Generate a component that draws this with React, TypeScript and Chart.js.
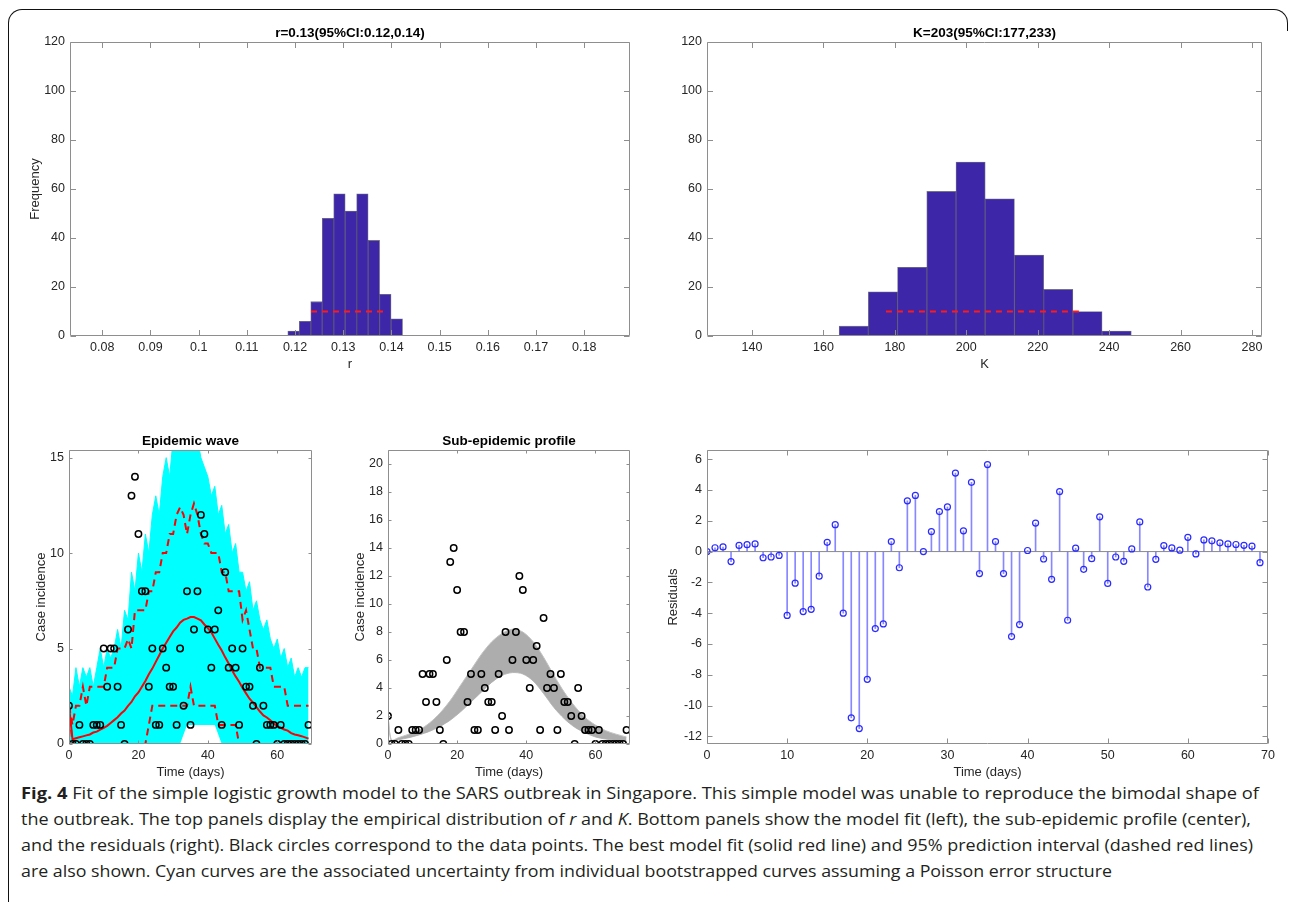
import React, { useEffect, useLayoutEffect, useRef } from "react";
import { Chart, registerables } from "chart.js";

Chart.register(...registerables);

// ---------------- Data ----------------
const rBinCenters = [0.11969, 0.12207, 0.12445, 0.12683, 0.12921, 0.13159, 0.13397, 0.13635, 0.13873, 0.14111];
const rCounts = [2, 6, 14, 48, 58, 51, 58, 39, 17, 7];
const rCI = [0.1233, 0.1392];
const rTicks = [0.08, 0.09, 0.1, 0.11, 0.12, 0.13, 0.14, 0.15, 0.16, 0.17, 0.18];

const kBinCenters = [168.49, 176.67, 184.85, 193.03, 201.21, 209.39, 217.57, 225.75, 233.93, 242.11];
const kCounts = [4, 18, 28, 59, 71, 56, 33, 19, 10, 2];
const kCI = [177.5, 232];
const kTicks = [140, 160, 180, 200, 220, 240, 260, 280];

const freqTicks = [0, 20, 40, 60, 80, 100, 120];

const days = [
  0, 1, 2, 3, 4, 5, 6, 7, 8, 9,
  10, 11, 12, 13, 14, 15, 16, 17, 18, 19,
  20, 21, 22, 23, 24, 25, 26, 27, 28, 29,
  30, 31, 32, 33, 34, 35, 36, 37, 38, 39,
  40, 41, 42, 43, 44, 45, 46, 47, 48, 49,
  50, 51, 52, 53, 54, 55, 56, 57, 58, 59,
  60, 61, 62, 63, 64, 65, 66, 67, 68, 69,
];
const cases = [
  2, 0, 0, 1, 0, 0, 0, 1, 1, 1,
  5, 3, 5, 5, 3, 1, 0, 6, 13, 14,
  11, 8, 8, 3, 5, 1, 1, 5, 4, 3,
  3, 1, 5, 2, 8, 1, 6, 8, 12, 11,
  6, 4, 6, 7, 1, 9, 4, 5, 4, 1,
  5, 3, 3, 2, 0, 4, 2, 1, 1, 1,
  0, 1, 0, 0, 0, 0, 0, 0, 0, 1,
];
const bestFit = [
  2, 0.25, 0.3, 0.35, 0.4, 0.45, 0.5, 0.6, 0.65, 0.75,
  0.85, 0.95, 1.1, 1.25, 1.4, 1.6, 1.75, 2.0, 2.2, 2.5,
  2.7, 3.0, 3.3, 3.65, 3.95, 4.3, 4.65, 5.0, 5.3, 5.6,
  5.9, 6.1, 6.35, 6.5, 6.57, 6.65, 6.65, 6.57, 6.48, 6.26,
  6.07, 5.85, 5.52, 5.2, 4.9, 4.54, 4.22, 3.85, 3.54, 3.26,
  2.93, 2.65, 2.37, 2.17, 1.93, 1.7, 1.5, 1.39, 1.24, 1.09,
  0.93, 0.85, 0.76, 0.7, 0.57, 0.5, 0.46, 0.41, 0.35, 0.28,
];
const piUpper = [
  2, 1, 2, 2, 3, 2, 3, 3, 3, 3,
  3, 4, 4, 4, 5, 5, 5, 5.5, 5, 7,
  7, 7, 7, 8, 8, 9, 9, 10, 10, 11,
  11, 12, 12.4, 12, 11, 12, 12.6, 12, 11, 10.5,
  10.5, 10, 10, 10, 9, 9, 8, 8, 8, 8,
  6.5, 7, 6, 5, 5, 4, 4, 4, 4, 3,
  3, 3, 3, 2, 2, 2, 2, 2, 2, 2,
];
const piLower = [
  2, 0, 0, 0, 0, 0, 0, 0, 0, 0,
  0, 0, 0, 0, 0, 0, 0, 0, 0, 0,
  0, 0, 0, 1, 2, 2, 2, 2, 2, 2,
  2, 2, 2, 2, 2, 3, 2, 2, 2, 2,
  2, 2, 2, 1, 1, 1, 1, 1, 1, 0,
  0, 0, 0, 0, 0, 0, 0, 0, 0, 0,
  0, 0, 0, 0, 0, 0, 0, 0, 0, 0,
];
// ragged top envelope of the cyan bootstrap realisations
const cyanHigh = [
  3, 2.5, 4, 3, 4, 3.5, 4, 3, 4, 5,
  4, 5, 4.5, 5, 6, 5, 7, 6.5, 9, 8,
  10, 9, 11, 10, 12, 13, 12, 14, 15, 14,
  16, 16, 16, 16, 16, 16, 16, 16, 15, 14.5,
  14, 13, 13.5, 12, 12.5, 11, 11.5, 10, 10.5, 9,
  9, 8, 8.5, 7, 7.5, 6.5, 6, 6.5, 5.5, 5,
  5.5, 4.5, 5, 4, 4.5, 3.5, 4, 3.5, 4, 4,
];
const cyanLow = [
  0, 0, 0, 0, 0, 0, 0, 0, 0, 0,
  0, 0, 0, 0, 0, 0, 0, 0, 0, 0,
  0, 0, 0, 0, 0, 0, 0, 0, 0, 0,
  0, 0, 0, 0.5, 1, 1, 1, 1, 1, 1,
  1, 1, 1, 0.5, 0, 0, 0, 0, 0, 0,
  0, 0, 0, 0, 0, 0, 0, 0, 0, 0,
  0, 0, 0, 0, 0, 0, 0, 0, 0, 0,
];
// envelope of the grey sub-epidemic curves
const bandDays = [0, 1, 3, 6, 9, 12, 15, 18, 21, 24, 27, 30, 33, 36, 39, 42, 45, 48, 51, 54, 57, 60, 63, 66, 69];
const grayUpper = [2, 0.3, 0.45, 0.7, 1.0, 1.5, 2.2, 3.1, 4.2, 5.3, 6.4, 7.3, 7.9, 8.2, 8.0, 7.3, 6.2, 4.9, 3.7, 2.7, 1.9, 1.35, 0.95, 0.7, 0.5];
const grayLower = [2, 0.2, 0.3, 0.45, 0.65, 0.9, 1.25, 1.7, 2.3, 3.0, 3.7, 4.4, 4.9, 5.1, 5.0, 4.5, 3.6, 2.6, 1.8, 1.2, 0.8, 0.5, 0.35, 0.25, 0.15];

const residuals = [
  0, 0.25, 0.3, -0.65, 0.4, 0.45, 0.5, -0.4, -0.35, -0.25,
  -4.15, -2.05, -3.9, -3.75, -1.6, 0.6, 1.75, -4.0, -10.8, -11.5,
  -8.3, -5.0, -4.7, 0.65, -1.05, 3.3, 3.65, 0, 1.3, 2.6,
  2.9, 5.1, 1.35, 4.5, -1.43, 5.65, 0.65, -1.43, -5.52, -4.74,
  0.07, 1.85, -0.48, -1.8, 3.9, -4.46, 0.22, -1.15, -0.46, 2.26,
  -2.07, -0.35, -0.63, 0.17, 1.93, -2.3, -0.5, 0.39, 0.24, 0.09,
  0.93, -0.15, 0.76, 0.7, 0.57, 0.5, 0.46, 0.41, 0.35, -0.72,
];

const timeTicks = [0, 20, 40, 60];
const waveYTicks = [0, 5, 10, 15];
const profileYTicks = [0, 2, 4, 6, 8, 10, 12, 14, 16, 18, 20];
const residXTicks = [0, 10, 20, 30, 40, 50, 60, 70];
const residYTicks = [-12, -10, -8, -6, -4, -2, 0, 2, 4, 6];

// ---------------- Styling helpers ----------------
const FAMILY = '"Liberation Sans", Arial, Helvetica, sans-serif';
const M = { l: 58, t: 36, r: 14, b: 46 };

type Box = { l: number; t: number; r: number; b: number };

const matlabAxes = {
  id: "matlabAxes",
  afterDraw(chart: any, _args: any, opts: any) {
    const { ctx, chartArea: a, scales } = chart;
    const L = Math.round(a.left) + 0.5;
    const R = Math.round(a.right) - 0.5;
    const T = Math.round(a.top) + 0.5;
    const B = Math.round(a.bottom) - 0.5;
    const len = opts.tickLen || 4;
    ctx.save();
    ctx.strokeStyle = "#8e8e8e";
    ctx.lineWidth = 1;
    ctx.beginPath();
    ctx.rect(L, T, R - L, B - T);
    for (const t of scales.x.ticks) {
      const p = Math.round(scales.x.getPixelForValue(t.value)) + 0.5;
      ctx.moveTo(p, B); ctx.lineTo(p, B - len);
      ctx.moveTo(p, T); ctx.lineTo(p, T + len);
    }
    for (const t of scales.y.ticks) {
      const p = Math.round(scales.y.getPixelForValue(t.value)) + 0.5;
      ctx.moveTo(L, p); ctx.lineTo(L + len, p);
      ctx.moveTo(R, p); ctx.lineTo(R - len, p);
    }
    ctx.stroke();
    const cx = (a.left + a.right) / 2;
    const cy = (a.top + a.bottom) / 2;
    ctx.textAlign = "center";
    ctx.textBaseline = "middle";
    if (opts.title) {
      ctx.fillStyle = "#000";
      ctx.font = `bold 13.5px ${FAMILY}`;
      ctx.fillText(opts.title, cx, a.top - 9);
    }
    ctx.fillStyle = "#262626";
    ctx.font = `13px ${FAMILY}`;
    if (opts.xLabel) ctx.fillText(opts.xLabel, cx, a.bottom + 28);
    if (opts.yLabel) {
      ctx.translate(a.left - opts.yLabelOffset, cy);
      ctx.rotate(-Math.PI / 2);
      ctx.fillText(opts.yLabel, 0, 0);
    }
    ctx.restore();
  },
};

function axis(min: number, max: number, ticks: number[], pos: "bottom" | "left", size: number, fmt?: (v: number) => string) {
  return {
    type: "linear",
    position: pos,
    min,
    max,
    offset: false,
    grid: { display: false, drawTicks: false },
    border: { display: false },
    ticks: {
      padding: pos === "bottom" ? 4 : 5,
      color: "#262626",
      font: { size: 12.5, family: FAMILY },
      autoSkip: false,
      maxRotation: 0,
      minRotation: 0,
      callback: (v: number) => (fmt ? fmt(v) : String(v)),
    },
    afterBuildTicks: (s: any) => {
      s.ticks = ticks.map((v) => ({ value: v }));
    },
    afterFit: (s: any) => {
      if (pos === "bottom") s.height = size;
      else s.width = size;
    },
  };
}

function baseOptions(scales: any, deco: any) {
  return {
    responsive: false,
    maintainAspectRatio: false,
    animation: false,
    devicePixelRatio: 1,
    events: [],
    layout: { padding: { top: M.t, right: M.r, left: 0, bottom: 0 } },
    plugins: {
      legend: { display: false },
      tooltip: { enabled: false },
      title: { display: false },
      matlabAxes: deco,
    },
    scales,
  };
}

function pts(xs: number[], ys: number[]) {
  return xs.map((x, i) => ({ x, y: ys[i] }));
}

const circleStyle = {
  showLine: false,
  pointStyle: "circle",
  pointRadius: 3.2,
  pointBorderWidth: 1.5,
  pointBorderColor: "#000",
  pointBackgroundColor: "rgba(0,0,0,0)",
  borderColor: "#000",
  backgroundColor: "rgba(0,0,0,0)",
};

function histConfig(centers: number[], counts: number[], ci: number[], xmin: number, xmax: number, xt: number[], fmt: (v: number) => string, deco: any) {
  return {
    type: "bar",
    data: {
      datasets: [
        {
          type: "line",
          data: [{ x: ci[0], y: 10 }, { x: ci[1], y: 10 }],
          borderColor: "#ff1a1a",
          borderWidth: 2,
          borderDash: [6, 5],
          pointRadius: 0,
          order: 0,
        },
        {
          type: "bar",
          data: pts(centers, counts),
          backgroundColor: "#3d26a8",
          borderColor: "rgba(25,20,50,0.6)",
          borderWidth: 0.8,
          borderSkipped: false,
          barPercentage: 1,
          categoryPercentage: 1,
          order: 1,
        },
      ],
    },
    options: baseOptions(
      {
        x: axis(xmin, xmax, xt, "bottom", M.b, fmt),
        y: axis(0, 120, freqTicks, "left", M.l),
      },
      deco
    ),
    plugins: [matlabAxes],
  };
}

function waveConfig() {
  return {
    type: "line",
    data: {
      datasets: [
        { data: pts(days, cyanLow), borderWidth: 0, borderColor: "rgba(0,0,0,0)", pointRadius: 0, order: 6, clip: 0 },
        {
          data: pts(days, cyanHigh),
          fill: "-1",
          backgroundColor: "#00ffff",
          borderColor: "#00ffff",
          borderWidth: 1,
          pointRadius: 0,
          order: 5,
          clip: 0,
        },
        { data: pts(days, piUpper), borderColor: "#ff0000", borderWidth: 2, borderDash: [7, 5], pointRadius: 0, order: 3 },
        { data: pts(days, piLower), borderColor: "#ff0000", borderWidth: 2, borderDash: [7, 5], pointRadius: 0, order: 3 },
        { data: pts(days, bestFit), borderColor: "#ff0000", borderWidth: 2, pointRadius: 0, order: 2 },
        { data: pts(days, cases), ...circleStyle, order: 1 },
      ],
    },
    options: baseOptions(
      {
        x: axis(0, 70, timeTicks, "bottom", M.b),
        y: axis(0, 15.4, waveYTicks, "left", M.l),
      },
      { title: "Epidemic wave", xLabel: "Time (days)", yLabel: "Case incidence", yLabelOffset: 27.5, tickLen: 3 }
    ),
    plugins: [matlabAxes],
  };
}

function profileConfig() {
  return {
    type: "line",
    data: {
      datasets: [
        { data: pts(bandDays, grayLower), borderColor: "#bdbdbd", borderWidth: 1, pointRadius: 0, order: 6, tension: 0.3 },
        {
          data: pts(bandDays, grayUpper),
          fill: "-1",
          backgroundColor: "#adadad",
          borderColor: "#c2c2c2",
          borderWidth: 1,
          pointRadius: 0,
          order: 5,
          tension: 0.3,
        },
        { data: pts(days, cases), ...circleStyle, order: 1 },
      ],
    },
    options: baseOptions(
      {
        x: axis(0, 70, timeTicks, "bottom", M.b),
        y: axis(0, 21, profileYTicks, "left", M.l),
      },
      { title: "Sub-epidemic profile", xLabel: "Time (days)", yLabel: "Case incidence", yLabelOffset: 27.5, tickLen: 3 }
    ),
    plugins: [matlabAxes],
  };
}

function residConfig() {
  return {
    type: "scatter",
    data: {
      datasets: [
        {
          type: "scatter",
          data: pts(days, residuals),
          showLine: false,
          pointStyle: "circle",
          pointRadius: 3,
          pointBorderWidth: 1.2,
          pointBorderColor: "#2a2aff",
          pointBackgroundColor: "rgba(0,0,0,0)",
          borderColor: "#2a2aff",
          backgroundColor: "rgba(0,0,0,0)",
          order: 0,
        },
        {
          type: "line",
          data: [{ x: 0, y: 0 }, { x: 70, y: 0 }],
          borderColor: "#8a8a8a",
          borderWidth: 1,
          pointRadius: 0,
          order: 1,
        },
        {
          type: "bar",
          data: pts(days, residuals),
          backgroundColor: "rgba(70,70,255,0.65)",
          borderWidth: 0,
          barThickness: 1,
          order: 2,
        },
      ],
    },
    options: baseOptions(
      {
        x: axis(0, 70, residXTicks, "bottom", M.b),
        y: axis(-12.5, 6.6, residYTicks, "left", M.l),
      },
      { xLabel: "Time (days)", yLabel: "Residuals", yLabelOffset: 34, tickLen: 5 }
    ),
    plugins: [matlabAxes],
  };
}

function Panel({ box, build }: { box: Box; build: () => any }) {
  const ref = useRef<HTMLCanvasElement>(null);
  const w = box.r - box.l + M.l + M.r;
  const h = box.b - box.t + M.t + M.b;
  useEffect(() => {
    const chart = new Chart(ref.current as HTMLCanvasElement, build() as any);
    return () => chart.destroy();
  }, []);
  return (
    <canvas
      ref={ref}
      width={w}
      height={h}
      style={{ position: "absolute", left: box.l - M.l, top: box.t - M.t, width: w, height: h }}
    />
  );
}

const fmtR = (v: number) => String(Number(v.toFixed(2)));

const P1: Box = { l: 70, t: 42, r: 630, b: 336 };
const P2: Box = { l: 707, t: 42, r: 1262, b: 336 };
const P3: Box = { l: 69, t: 450, r: 312, b: 744 };
const P4: Box = { l: 388, t: 450, r: 630, b: 744 };
const P5: Box = { l: 707, t: 450, r: 1268, b: 744 };

// caption layout: each line fitted to its measured width in the reference
const captionTargets = [
  { top: 795, width: 1238 },
  { top: 821, width: 1230 },
  { top: 847, width: 1232 },
  { top: 873, width: 1091 },
];

function Caption() {
  const refs = useRef<(HTMLSpanElement | null)[]>([]);
  useLayoutEffect(() => {
    const fit = () => {
      refs.current.forEach((el, i) => {
        if (!el) return;
        el.style.transform = "none";
        const w = el.getBoundingClientRect().width;
        if (w > 0) el.style.transform = `scaleX(${captionTargets[i].width / w})`;
      });
    };
    fit();
    const f: any = (document as any).fonts;
    if (f && f.ready) f.ready.then(fit);
  }, []);
  const lineStyle = (i: number): React.CSSProperties => ({
    position: "absolute",
    left: 21,
    top: captionTargets[i].top - 10,
    whiteSpace: "nowrap",
    transformOrigin: "0 0",
    display: "inline-block",
    fontFamily: '"Open Sans", "Noto Sans", sans-serif',
    fontSize: 16,
    lineHeight: "16px",
    color: "#231f20",
  });
  return (
    <>
      <span ref={(e) => { refs.current[0] = e; }} style={lineStyle(0)}>
        <b>Fig. 4</b> Fit of the simple logistic growth model to the SARS outbreak in Singapore. This simple model was unable to reproduce the bimodal shape of
      </span>
      <span ref={(e) => { refs.current[1] = e; }} style={lineStyle(1)}>
        the outbreak. The top panels display the empirical distribution of <i>r</i> and <i>K</i>. Bottom panels show the model fit (left), the sub-epidemic profile (center),
      </span>
      <span ref={(e) => { refs.current[2] = e; }} style={lineStyle(2)}>
        and the residuals (right). Black circles correspond to the data points. The best model fit (solid red line) and 95% prediction interval (dashed red lines)
      </span>
      <span ref={(e) => { refs.current[3] = e; }} style={lineStyle(3)}>
        are also shown. Cyan curves are the associated uncertainty from individual bootstrapped curves assuming a Poisson error structure
      </span>
    </>
  );
}

export default function App() {
  return (
    <div
      style={{
        position: "fixed",
        left: 0,
        top: 0,
        width: 1292,
        height: 902,
        overflow: "hidden",
        background: "#fff",
      }}
    >
      <div
        style={{
          position: "absolute",
          left: 8,
          top: 9,
          width: 1266,
          height: 1000,
          borderTop: "1.5px solid #111",
          borderLeft: "1.5px solid #111",
          borderTopLeftRadius: 14,
          boxSizing: "border-box",
        }}
      />
      <div
        style={{
          position: "absolute",
          left: 1274,
          top: 9,
          width: 14,
          height: 22,
          borderTop: "1.5px solid #111",
          borderRight: "1.5px solid #111",
          borderTopRightRadius: 14,
          boxSizing: "border-box",
        }}
      />
      <Caption />
      <Panel
        box={P1}
        build={() =>
          histConfig(rBinCenters, rCounts, rCI, 0.0733, 0.1895, rTicks, fmtR, {
            title: "r=0.13(95%CI:0.12,0.14)",
            xLabel: "r",
            yLabel: "Frequency",
            yLabelOffset: 34.5,
            tickLen: 5.5,
          })
        }
      />
      <Panel
        box={P2}
        build={() =>
          histConfig(kBinCenters, kCounts, kCI, 127.4, 282.8, kTicks, (v) => String(v), {
            title: "K=203(95%CI:177,233)",
            xLabel: "K",
            tickLen: 5.5,
          })
        }
      />
      <Panel box={P3} build={waveConfig} />
      <Panel box={P4} build={profileConfig} />
      <Panel box={P5} build={residConfig} />
    </div>
  );
}
